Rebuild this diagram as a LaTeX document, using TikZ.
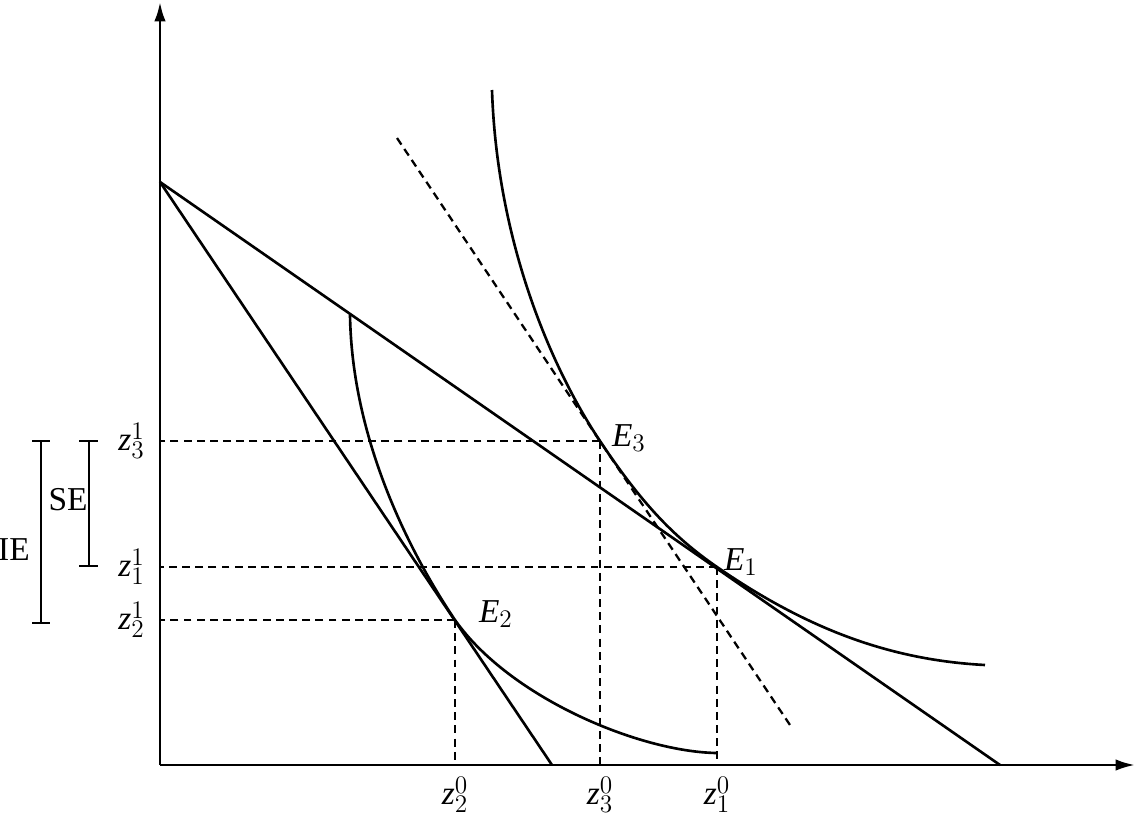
\documentclass[tikz,border=0pt]{standalone}
\usepackage{fontspec}
\setmainfont{Liberation Serif}
\usetikzlibrary{arrows.meta}
\begin{document}
\begin{tikzpicture}[x=0.02cm,y=-0.02cm,line width=1.5pt,
  guide/.style={dash pattern=on 4.5pt off 3pt,line width=1.3pt},
  lbl/.style={font=\fontsize{19}{22}\selectfont,inner sep=1pt}]
\useasboundingbox (0,0) rectangle (1137,819);
% axes
\coordinate (O) at (160,765);
\coordinate (ytop) at (160,2);
\coordinate (xend) at (1135,765);
\draw[-{Latex[length=11pt,width=6.5pt]}] (O) -- (ytop);
\draw[-{Latex[length=11pt,width=6.5pt]}] (O) -- (xend);
% budget lines and compensated line
\coordinate (A) at (160,182);
\coordinate (B1) at (1000,765);
\coordinate (B2) at (552,765);
\coordinate (D1) at (397,138);
\coordinate (D2) at (790,725);
\draw (A) -- (B1);
\draw (A) -- (B2);
\draw[guide] (D1) -- (D2);
% equilibria
\coordinate (E3) at (600,441);
\coordinate (E1) at (717,567);
\coordinate (E2) at (455,620);
% indifference curves
\draw (492,90) .. controls (497,240) and (550,366) .. (E3)
  .. controls (640,501) and (672,536) .. (E1)
  .. controls (807,629) and (890,660) .. (985,665);
\draw (350,315) .. controls (352,440) and (410,553) .. (E2)
  .. controls (510,698) and (640,752) .. (717,753);
% guides to the axes
\foreach \p in {E1,E2,E3}{
  \draw[guide] (\p) -- (\p -| O);
  \draw[guide] (\p) -- (\p |- O);
}
% labels
\node[lbl,anchor=east] (z31) at ([xshift=-7pt]E3 -| O) {$\mathit{z}^1_3$};
\node[lbl,anchor=east] (z11) at ([xshift=-7pt]E1 -| O) {$\mathit{z}^1_1$};
\node[lbl,anchor=east] (z21) at ([xshift=-7pt]E2 -| O) {$\mathit{z}^1_2$};
\node[lbl,anchor=north] (z20) at ([yshift=-5pt]E2 |- O) {$\mathit{z}^0_2$};
\node[lbl,anchor=north] (z30) at ([yshift=-5pt]E3 |- O) {$\mathit{z}^0_3$};
\node[lbl,anchor=north] (z10) at ([yshift=-5pt]E1 |- O) {$\mathit{z}^0_1$};
\node[lbl,anchor=base west] (lE3) at (609,446) {$\mathit{E}_3$};
\node[lbl,anchor=base west] (lE1) at (721,570) {$\mathit{E}_1$};
\node[lbl,anchor=base west] (lE2) at (476,622) {$\mathit{E}_2$};
% effect brackets
\draw (79,441) -- (98,441) (89,441) -- (89,566) (79,566) -- (98,566);
\draw (32,441) -- (50,441) (41,441) -- (41,623) (32,623) -- (50,623);
\node[lbl] (SE) at (68,500) {SE};
\node[lbl] (IE) at (14,550) {IE};
\end{tikzpicture}
\end{document}
